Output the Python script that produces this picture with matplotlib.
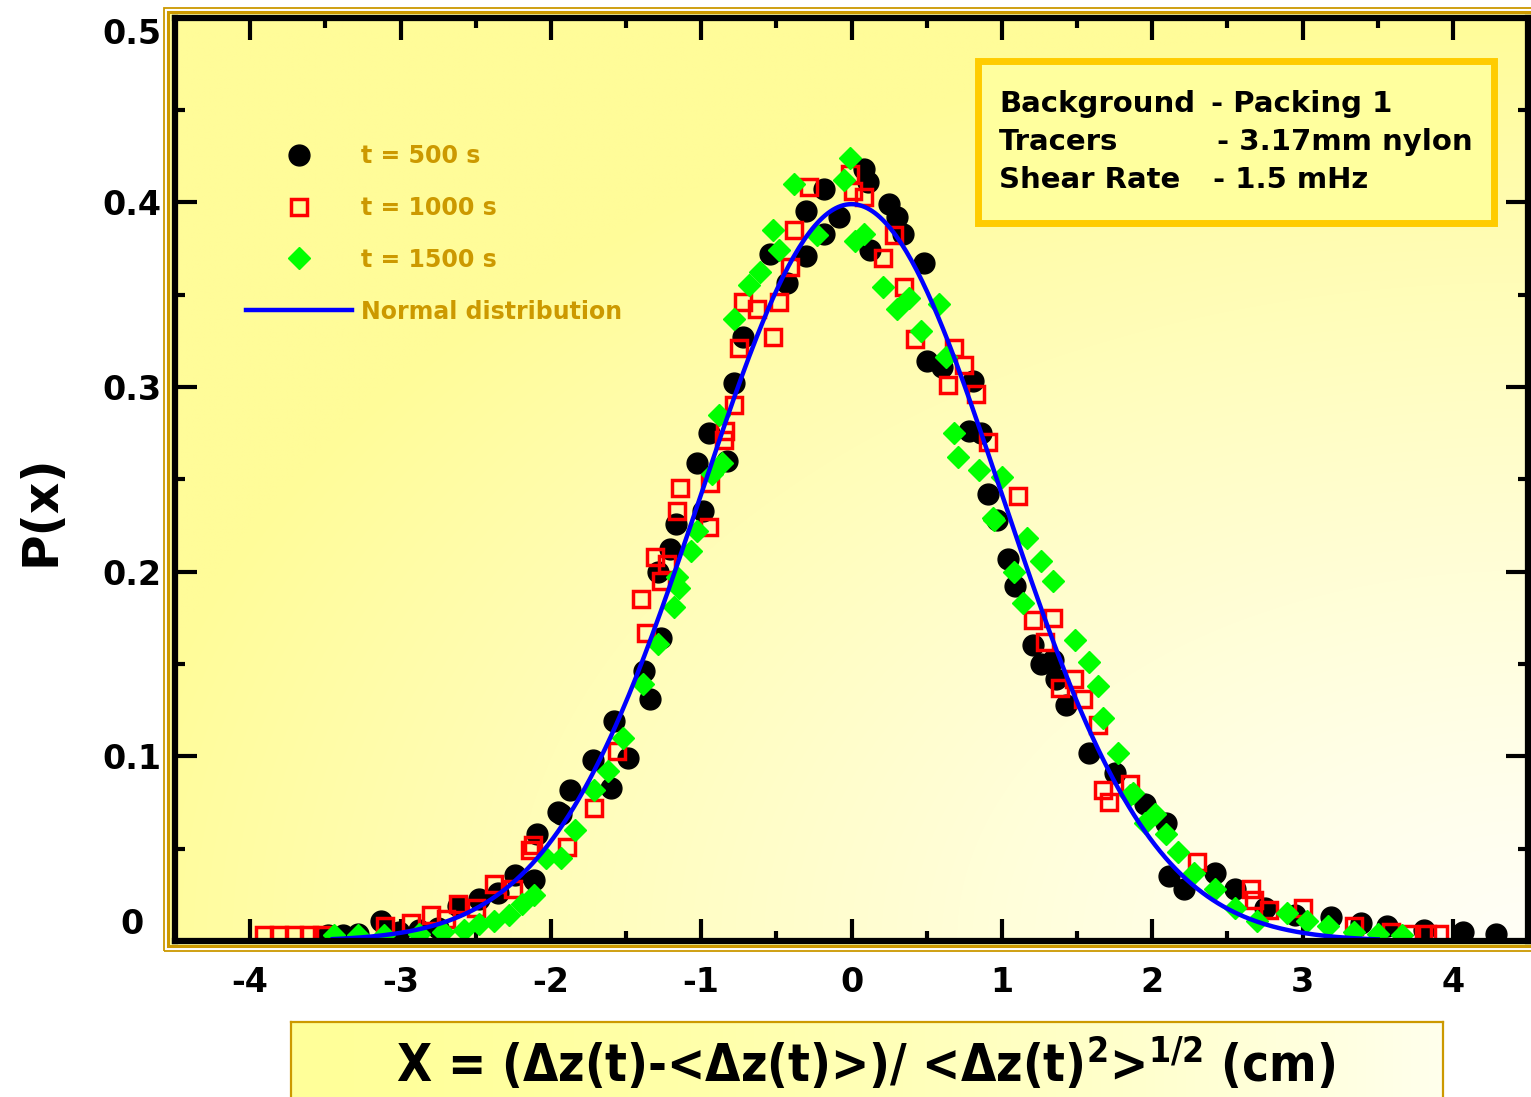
import numpy as np
import matplotlib
matplotlib.use("Agg")
import matplotlib.pyplot as plt
from matplotlib.patches import Rectangle
from matplotlib.colors import to_rgb

plt.rcParams["font.family"] = ["DejaVu Sans"]
plt.rcParams["font.weight"] = "bold"
plt.rcParams["axes.unicode_minus"] = False
plt.rcParams["mathtext.default"] = "regular"

# ---- data -------------------------------------------------------------
x_500 = [-3.48, -3.38, -3.28, -3.13, -3.01, -2.88, -2.75, -2.62, -2.48, -2.35,
         -2.24, -2.11, -2.09, -1.95, -1.93, -1.87, -1.72, -1.60, -1.58, -1.49,
         -1.38, -1.34, -1.29, -1.27, -1.21, -1.17, -1.03, -0.99, -0.95, -0.83,
         -0.78, -0.72, -0.54, -0.43, -0.30, -0.30, -0.18, -0.18, -0.08, 0.08,
         0.11, 0.12, 0.25, 0.30, 0.34, 0.48, 0.50, 0.60, 0.78, 0.81,
         0.86, 0.91, 0.97, 1.04, 1.09, 1.21, 1.26, 1.34, 1.36, 1.43,
         1.58, 1.75, 1.95, 2.09, 2.11, 2.21, 2.42, 2.55, 2.75, 2.95,
         3.19, 3.39, 3.56, 3.81, 4.07, 4.29]
p_500 = [0.003, 0.003, 0.004, 0.011, 0.005, 0.006, 0.007, 0.019, 0.023, 0.026,
         0.036, 0.033, 0.058, 0.070, 0.069, 0.082, 0.098, 0.083, 0.119, 0.099,
         0.146, 0.131, 0.200, 0.164, 0.212, 0.226, 0.259, 0.233, 0.275, 0.260,
         0.302, 0.327, 0.372, 0.356, 0.371, 0.395, 0.407, 0.383, 0.392, 0.418,
         0.411, 0.374, 0.399, 0.392, 0.383, 0.367, 0.314, 0.311, 0.276, 0.303,
         0.275, 0.242, 0.228, 0.207, 0.192, 0.160, 0.150, 0.152, 0.142, 0.128,
         0.102, 0.091, 0.074, 0.064, 0.035, 0.028, 0.037, 0.028, 0.018, 0.014,
         0.013, 0.010, 0.008, 0.006, 0.005, 0.004]

x_1000 = [-3.91, -3.81, -3.71, -3.61, -3.52, -3.10, -2.93, -2.80, -2.70, -2.62,
          -2.50, -2.38, -2.25, -2.14, -2.12, -1.89, -1.71, -1.56, -1.40, -1.37,
          -1.31, -1.27, -1.23, -1.16, -1.14, -0.95, -0.94, -0.85, -0.84, -0.78,
          -0.75, -0.72, -0.63, -0.52, -0.48, -0.41, -0.38, -0.28, -0.01, 0.01,
          0.08, 0.21, 0.28, 0.35, 0.42, 0.64, 0.68, 0.75, 0.83, 0.91,
          1.11, 1.21, 1.29, 1.34, 1.39, 1.48, 1.54, 1.64, 1.67, 1.71,
          1.85, 2.30, 2.66, 2.68, 2.78, 3.00, 3.34, 3.59, 3.70, 3.83,
          3.91]
p_1000 = [0.003, 0.003, 0.003, 0.003, 0.003, 0.008, 0.010, 0.014, 0.012, 0.020,
          0.018, 0.031, 0.028, 0.049, 0.052, 0.051, 0.072, 0.103, 0.185, 0.167,
          0.208, 0.195, 0.204, 0.233, 0.245, 0.224, 0.248, 0.271, 0.276, 0.290,
          0.321, 0.346, 0.342, 0.327, 0.346, 0.365, 0.385, 0.408, 0.415, 0.406,
          0.403, 0.370, 0.382, 0.354, 0.326, 0.301, 0.321, 0.312, 0.296, 0.270,
          0.241, 0.174, 0.162, 0.175, 0.137, 0.142, 0.131, 0.117, 0.082, 0.075,
          0.085, 0.043, 0.028, 0.022, 0.017, 0.018, 0.008, 0.005, 0.004, 0.004,
          0.004]

x_1500 = [-3.44, -3.28, -3.11, -2.88, -2.72, -2.58, -2.48, -2.38, -2.28, -2.19,
          -2.11, -2.03, -1.93, -1.84, -1.71, -1.62, -1.52, -1.39, -1.29, -1.18,
          -1.16, -1.15, -1.07, -1.03, -0.93, -0.88, -0.86, -0.78, -0.68, -0.61,
          -0.52, -0.48, -0.38, -0.23, -0.05, -0.01, 0.02, 0.08, 0.21, 0.30,
          0.38, 0.46, 0.58, 0.63, 0.68, 0.71, 0.85, 0.94, 0.95, 1.00,
          1.08, 1.14, 1.17, 1.26, 1.34, 1.49, 1.58, 1.64, 1.67, 1.77,
          1.85, 1.87, 1.95, 2.02, 2.09, 2.17, 2.28, 2.42, 2.55, 2.70,
          2.90, 3.03, 3.17, 3.34, 3.50, 3.66]
p_1500 = [0.003, 0.003, 0.003, 0.004, 0.005, 0.006, 0.009, 0.011, 0.014, 0.020,
          0.025, 0.045, 0.045, 0.060, 0.082, 0.092, 0.110, 0.139, 0.161, 0.181,
          0.197, 0.191, 0.211, 0.222, 0.253, 0.285, 0.259, 0.337, 0.355, 0.362,
          0.385, 0.374, 0.410, 0.382, 0.412, 0.424, 0.379, 0.383, 0.354, 0.342,
          0.348, 0.330, 0.345, 0.316, 0.275, 0.262, 0.255, 0.229, 0.228, 0.251,
          0.200, 0.183, 0.218, 0.206, 0.195, 0.163, 0.151, 0.138, 0.121, 0.102,
          0.079, 0.080, 0.064, 0.069, 0.058, 0.048, 0.037, 0.028, 0.018, 0.011,
          0.015, 0.011, 0.008, 0.005, 0.004, 0.003]

series_labels = ["t = 500 s", "t = 1000 s", "t = 1500 s", "Normal distribution"]
x_ticks = [-4, -3, -2, -1, 0, 1, 2, 3, 4]
x_ticklabels = ["-4", "-3", "-2", "-1", "0", "1", "2", "3", "4"]
y_ticks = [0, 0.1, 0.2, 0.3, 0.4, 0.5]
y_ticklabels = ["0", "0.1", "0.2", "0.3", "0.4", "0.5"]
info_keys = ["Background", "Tracers", "Shear Rate"]
info_vals = ["- Packing 1", "- 3.17mm nylon", "- 1.5 mHz"]

# standard normal density for the reference curve
x_norm = np.linspace(-3.45, 3.5, 400)
p_norm = np.exp(-x_norm ** 2 / 2) / np.sqrt(2 * np.pi)

# ---- figure -----------------------------------------------------------
W, H = 1531, 1097
fig = plt.figure(figsize=(W / 100, H / 100), dpi=100)


def fx(px):
    return px / W


def fy(py):
    return 1 - py / H


GOLD = "#CC9900"
YELLOW = "#FFFC99"

# double gold frame round the plot area
fig.add_artist(Rectangle((fx(168), fy(946)), fx(1600) - fx(168), fy(12) - fy(946),
                         transform=fig.transFigure, facecolor=YELLOW,
                         edgecolor=GOLD, lw=2.2, zorder=-2))
fig.add_artist(Rectangle((fx(163.5), fy(951)), fx(1600) - fx(163.5), fy(7.5) - fy(951),
                         transform=fig.transFigure, facecolor="none",
                         edgecolor=GOLD, lw=1.3, zorder=-2))

ax = fig.add_axes([fx(175), fy(941), fx(1528) - fx(175), fy(17.5) - fy(941)])

# yellow background fading to white toward the lower right corner
n = 300
U, V = np.meshgrid(np.linspace(0, 1, n), np.linspace(0, 1, n))
d = np.clip(np.sqrt(0.9 * (1 - U) ** 2 + V ** 2), 0, 1) ** 1.2
yel = np.array(to_rgb(YELLOW))
wht = np.array(to_rgb("#FFFFF6"))
img = wht * (1 - d)[..., None] + yel * d[..., None]
ax.imshow(img, extent=[0, 1, 0, 1], transform=ax.transAxes, origin="lower",
          aspect="auto", zorder=0, interpolation="bilinear")

h1, = ax.plot(x_500, p_500, "o", color="black", ms=15, mec="black", zorder=3,
              label=series_labels[0])
h2, = ax.plot(x_1000, p_1000, "s", mfc="none", mec="#FF0000", mew=2.5, ms=12,
              zorder=4, label=series_labels[1])
h3, = ax.plot(x_1500, p_1500, "D", color="#00FF00", mec="#00FF00", ms=11.5,
              zorder=5, label=series_labels[2])
h4, = ax.plot(x_norm, p_norm, "-", color="#0000FF", lw=3.2, zorder=6,
              label=series_labels[3])

ax.set_xlim(-4.50, 4.46)
ax.set_ylim(0, 0.5)
ax.set_xticks(x_ticks)
ax.set_xticklabels(x_ticklabels)
ax.set_xticks(np.arange(-4.5, 4.6, 0.5), minor=True)
ax.set_yticks(y_ticks)
ax.set_yticklabels(y_ticklabels)
ax.set_yticks(np.arange(0.05, 0.5, 0.1), minor=True)

for s in ax.spines.values():
    s.set_linewidth(4.5)
    s.set_color("black")
    s.set_zorder(8)

ax.tick_params(which="major", direction="in", length=16, width=3, top=True,
               right=True, labelsize=24, colors="black")
ax.tick_params(which="minor", direction="in", length=7, width=3, top=True,
               right=True)
ax.tick_params(axis="x", which="major", pad=18)
ax.tick_params(axis="y", which="major", pad=31)
for lab in ax.get_yticklabels():
    lab.set_ha("center")
    lab.set_fontweight("bold")
for lab in ax.get_xticklabels():
    lab.set_fontweight("bold")
ylabs = ax.get_yticklabels()
ylabs[0].set_va("bottom")
ylabs[-1].set_va("top")

leg = ax.legend(handles=[h1, h2, h3, h4], loc="upper left",
                bbox_to_anchor=(0.0525, 0.863), frameon=False, numpoints=1,
                prop={"size": 17, "weight": "bold"}, labelcolor=GOLD,
                handlelength=4.5, handletextpad=0.35, labelspacing=1.18,
                borderpad=0, borderaxespad=0)
leg.set_zorder(7)

# information box
ax.add_patch(Rectangle((fx(978.5), fy(222.5)), fx(1493.5) - fx(978.5),
                       fy(61.5) - fy(222.5), transform=fig.transFigure,
                       facecolor="#FFFF9E", edgecolor="#FFCC00", lw=5,
                       zorder=7, clip_on=False))
key_y = [112, 150, 188]
val_x = [1211, 1217, 1213]
for k, v, yy, xx in zip(info_keys, info_vals, key_y, val_x):
    ax.text(fx(999), fy(yy), k, transform=fig.transFigure, fontsize=21,
            fontweight="bold", va="baseline", ha="left", zorder=9)
    ax.text(fx(xx), fy(yy), v, transform=fig.transFigure, fontsize=21,
            fontweight="bold", va="baseline", ha="left", zorder=9)

# axis titles
fig.text(fx(40), fy(510), "P(x)", rotation=90, ha="center", va="center",
         fontsize=35, fontweight="bold")

lab_ax = fig.add_axes([fx(291), fy(1110), fx(1443) - fx(291), fy(1022) - fy(1110)])
grad = np.linspace(0, 1, 256)[None, :] ** 1.5
lab_img = np.array(to_rgb("#FFFF99")) * (1 - grad[..., None]) + \
    np.array(to_rgb("#FFFFEC")) * grad[..., None]
lab_ax.imshow(lab_img, extent=[0, 1, 0, 1], aspect="auto")
lab_ax.set_xticks([])
lab_ax.set_yticks([])
for s in lab_ax.spines.values():
    s.set_color(GOLD)
    s.set_linewidth(1.6)
fig.text(fx(866), fy(1064),
         "X = (\u0394z(t)-<\u0394z(t)>)/ <\u0394z(t)$^{2}$>$^{1/2}$ (cm)",
         ha="center", va="center", fontsize=36.5, fontweight="bold",
         fontstretch="condensed")

fig.savefig("out.png", dpi=100)
